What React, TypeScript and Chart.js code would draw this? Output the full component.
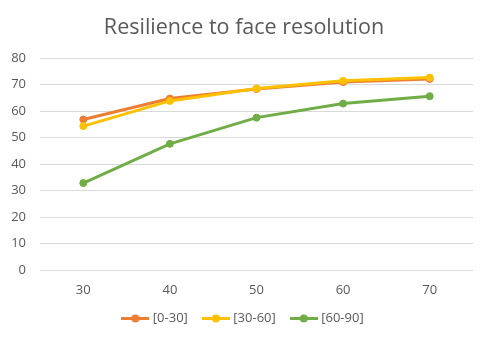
import React, { useEffect, useRef } from "react";
import { Chart, registerables } from "chart.js";

Chart.register(...registerables);

const categories = ["30", "40", "50", "60", "70"];
const series0to30 = [56.8, 64.7, 68.3, 70.9, 72.1];
const series30to60 = [54.3, 63.8, 68.5, 71.4, 72.6];
const series60to90 = [32.8, 47.6, 57.5, 62.8, 65.6];
const seriesLabels = ["[0-30]", "[30-60]", "[60-90]"];
const seriesColors = ["#ED7D31", "#FFC000", "#70AD47"];
const yTicks = [0, 10, 20, 30, 40, 50, 60, 70, 80];

const FONT = "'Open Sans', 'DejaVu Sans', sans-serif";
const TEXT = "#595959";

function legendIcon(color: string): HTMLCanvasElement {
  const c = document.createElement("canvas");
  c.width = 28;
  c.height = 9;
  const ctx = c.getContext("2d")!;
  ctx.strokeStyle = color;
  ctx.lineWidth = 3;
  ctx.beginPath();
  ctx.moveTo(0, 4.5);
  ctx.lineTo(28, 4.5);
  ctx.stroke();
  ctx.fillStyle = color;
  ctx.beginPath();
  ctx.arc(14, 4.5, 4, 0, Math.PI * 2);
  ctx.fill();
  return c;
}

export default function App() {
  const ref = useRef<HTMLCanvasElement | null>(null);
  useEffect(() => {
    document.body.style.margin = "0";
    const values = [series0to30, series30to60, series60to90];
    const drawOrder = [3, 2, 1];
    const chart = new Chart(ref.current!, {
      type: "line",
      data: {
        labels: categories,
        datasets: values.map((v, i) => ({
          label: seriesLabels[i],
          data: v,
          borderColor: seriesColors[i],
          backgroundColor: seriesColors[i],
          borderWidth: 3,
          pointRadius: 3.5,
          pointBorderWidth: 1,
          pointStyle: "circle",
          tension: 0,
          order: drawOrder[i],
          fill: false,
          yAxisID: "y",
        })),
      },
      options: {
        animation: false,
        responsive: false,
        layout: { padding: { left: 0, right: 0, top: 0, bottom: 4 } },
        plugins: {
          title: {
            display: true,
            text: "Resilience to face resolution",
            color: TEXT,
            font: { family: FONT, size: 21.5, weight: "normal" },
            padding: { top: 15.4, bottom: 16.8 },
          },
          legend: {
            position: "bottom",
            labels: {
              color: TEXT,
              font: { family: FONT, size: 13 },
              usePointStyle: true,
              pointStyleWidth: 22,
              boxHeight: 9,
              padding: 17,
              sort: (a: any, b: any) => a.datasetIndex - b.datasetIndex,
              generateLabels: (ch: any) =>
                ch.data.datasets.map((d: any, i: number) => ({
                  text: d.label,
                  datasetIndex: i,
                  pointStyle: legendIcon(seriesColors[i]),
                  fillStyle: seriesColors[i],
                  strokeStyle: seriesColors[i],
                  lineWidth: 0,
                  hidden: false,
                  fontColor: TEXT,
                })),
            },
          },
          tooltip: { enabled: false },
        },
        scales: {
          x: {
            offset: true,
            grid: { display: false, drawTicks: false },
            border: { display: false },
            ticks: { color: TEXT, font: { family: FONT, size: 13 }, padding: 12 },
            afterFit: (s: any) => {
              s.height = 25;
            },
          },
          y: {
            min: 0,
            max: 80,
            afterBuildTicks: (s: any) => {
              s.ticks = yTicks.map((v) => ({ value: v }));
            },
            grid: { color: "#D9D9D9", lineWidth: 1, drawTicks: false },
            border: { display: false },
            ticks: { color: TEXT, font: { family: FONT, size: 13 }, padding: 14 },
            afterFit: (s: any) => {
              s.width = 40;
            },
          },
          yRight: {
            position: "right",
            min: 0,
            max: 80,
            grid: { display: false, drawTicks: false },
            border: { display: false },
            ticks: { display: false },
            afterFit: (s: any) => {
              s.width = 15;
            },
          },
        },
      },
    });
    return () => chart.destroy();
  }, []);
  return <canvas ref={ref} width={488} height={339} style={{ display: "block" }} />;
}
